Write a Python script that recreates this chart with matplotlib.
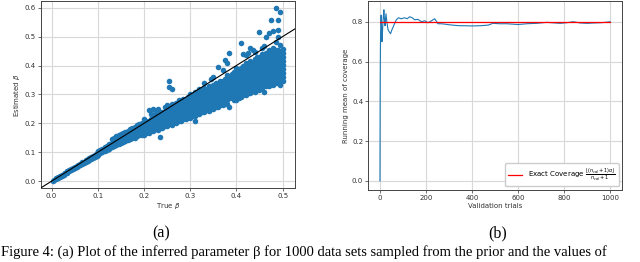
import matplotlib.pyplot as plt

# (a) true vs estimated beta, columns of points
col_x = [0.002, 0.006, 0.010, 0.014, 0.018, 0.022, 0.026, 0.030, 0.034, 0.038,
         0.042, 0.046, 0.050, 0.054, 0.058, 0.062, 0.066, 0.070, 0.074, 0.078,
         0.082, 0.086, 0.090, 0.094, 0.098,
         0.100, 0.105, 0.110, 0.115, 0.120, 0.125, 0.130, 0.135, 0.140, 0.145,
         0.150, 0.155, 0.160, 0.165, 0.170, 0.175, 0.180, 0.185, 0.190, 0.195,
         0.200, 0.205, 0.210, 0.215, 0.220, 0.225, 0.230, 0.235, 0.240, 0.245,
         0.250, 0.255, 0.260, 0.265, 0.270, 0.275, 0.280, 0.285, 0.290, 0.295,
         0.300, 0.305, 0.310, 0.315, 0.320, 0.325, 0.330, 0.335, 0.340, 0.345,
         0.350, 0.355, 0.360, 0.365, 0.370, 0.375, 0.380, 0.385, 0.390, 0.395,
         0.400, 0.405, 0.410, 0.415, 0.420, 0.425, 0.430, 0.435, 0.440, 0.445,
         0.450, 0.455, 0.460, 0.465, 0.470, 0.475, 0.480, 0.485, 0.490, 0.495,
         0.500]
col_y = [
    [0.002], [0.005], [0.009, 0.011], [0.012, 0.014], [0.016, 0.018],
    [0.019, 0.022], [0.023, 0.026], [0.027, 0.030], [0.030, 0.034], [0.034, 0.038],
    [0.038, 0.041], [0.041, 0.045], [0.045, 0.049], [0.048, 0.053], [0.052, 0.057],
    [0.056, 0.061], [0.060, 0.065], [0.063, 0.068], [0.067, 0.072], [0.070, 0.076],
    [0.074, 0.080], [0.077, 0.084], [0.081, 0.088], [0.084, 0.092], [0.088, 0.097],
    [0.092, 0.098, 0.104], [0.096, 0.102, 0.108], [0.101, 0.107, 0.113],
    [0.105, 0.111, 0.118], [0.109, 0.116, 0.122], [0.113, 0.120, 0.127],
    [0.117, 0.125, 0.132, 0.146], [0.121, 0.129, 0.137, 0.150],
    [0.125, 0.133, 0.141, 0.155], [0.128, 0.137, 0.146, 0.158],
    [0.132, 0.141, 0.150, 0.162], [0.135, 0.145, 0.155, 0.166],
    [0.139, 0.149, 0.159, 0.170], [0.142, 0.153, 0.163, 0.174],
    [0.145, 0.156, 0.167, 0.180], [0.149, 0.160, 0.171, 0.184],
    [0.150, 0.163, 0.175, 0.188], [0.155, 0.167, 0.179, 0.193],
    [0.158, 0.170, 0.183, 0.197], [0.160, 0.174, 0.187, 0.201],
    [0.160, 0.174, 0.188, 0.202, 0.216],
    [0.167, 0.181, 0.195, 0.209],
    [0.166, 0.180, 0.194, 0.208, 0.245],
    [0.173, 0.187, 0.201, 0.215, 0.232],
    [0.172, 0.186, 0.200, 0.214, 0.228, 0.250],
    [0.179, 0.193, 0.207, 0.221, 0.240],
    [0.178, 0.192, 0.206, 0.220, 0.234, 0.248],
    [0.153, 0.185, 0.199, 0.213, 0.227],
    [0.184, 0.198, 0.212, 0.226, 0.240],
    [0.191, 0.205, 0.219, 0.233, 0.256],
    [0.190, 0.204, 0.218, 0.232, 0.246, 0.265],
    [0.197, 0.211, 0.225, 0.239, 0.253, 0.345, 0.325],
    [0.196, 0.210, 0.224, 0.238, 0.252, 0.266, 0.320],
    [0.203, 0.217, 0.231, 0.245, 0.259],
    [0.202, 0.216, 0.230, 0.244, 0.258, 0.272],
    [0.209, 0.223, 0.237, 0.251, 0.265, 0.282],
    [0.208, 0.222, 0.236, 0.250, 0.264, 0.278],
    [0.215, 0.229, 0.243, 0.257, 0.271, 0.285],
    [0.214, 0.228, 0.242, 0.256, 0.270, 0.284],
    [0.221, 0.235, 0.249, 0.263, 0.277, 0.291],
    [0.220, 0.234, 0.248, 0.262, 0.276, 0.290, 0.302],
    [0.227, 0.241, 0.255, 0.269, 0.283, 0.297],
    [0.207, 0.226, 0.240, 0.254, 0.268, 0.282, 0.296, 0.310],
    [0.233, 0.247, 0.261, 0.275, 0.289, 0.303],
    [0.232, 0.246, 0.260, 0.274, 0.288, 0.302, 0.318],
    [0.239, 0.253, 0.267, 0.281, 0.295, 0.309],
    [0.238, 0.252, 0.266, 0.280, 0.294, 0.308, 0.322, 0.340],
    [0.245, 0.259, 0.273, 0.287, 0.301, 0.315],
    [0.244, 0.258, 0.272, 0.286, 0.300, 0.314, 0.328],
    [0.251, 0.265, 0.279, 0.293, 0.307, 0.321, 0.352],
    [0.250, 0.264, 0.278, 0.292, 0.306, 0.320, 0.334, 0.360],
    [0.257, 0.271, 0.285, 0.299, 0.313, 0.327, 0.341],
    [0.256, 0.270, 0.284, 0.298, 0.312, 0.326, 0.340, 0.395],
    [0.263, 0.277, 0.291, 0.305, 0.319, 0.333, 0.347],
    [0.262, 0.276, 0.290, 0.304, 0.318, 0.332, 0.346, 0.385],
    [0.269, 0.283, 0.297, 0.311, 0.325, 0.339, 0.353, 0.420],
    [0.268, 0.282, 0.296, 0.310, 0.324, 0.338, 0.352, 0.366, 0.410],
    [0.256, 0.289, 0.303, 0.317, 0.331, 0.345, 0.359, 0.443],
    [0.290, 0.288, 0.302, 0.316, 0.330, 0.344, 0.358, 0.372],
    [0.281, 0.295, 0.309, 0.323, 0.337, 0.351, 0.365, 0.379],
    [0.280, 0.294, 0.308, 0.322, 0.336, 0.350, 0.364, 0.378, 0.392],
    [0.287, 0.301, 0.315, 0.329, 0.343, 0.357, 0.371, 0.385],
    [0.292, 0.306, 0.320, 0.334, 0.348, 0.362, 0.376, 0.390, 0.477],
    [0.299, 0.313, 0.327, 0.341, 0.355, 0.369, 0.383, 0.397, 0.440],
    [0.298, 0.312, 0.326, 0.340, 0.354, 0.368, 0.382, 0.396, 0.410, 0.435],
    [0.305, 0.319, 0.333, 0.347, 0.361, 0.375, 0.389, 0.403, 0.445],
    [0.304, 0.318, 0.332, 0.346, 0.360, 0.374, 0.388, 0.402, 0.416, 0.460],
    [0.311, 0.325, 0.339, 0.353, 0.367, 0.381, 0.395, 0.409, 0.452],
    [0.310, 0.324, 0.338, 0.352, 0.366, 0.380, 0.394, 0.408, 0.422, 0.448],
    [0.317, 0.331, 0.345, 0.359, 0.373, 0.387, 0.401, 0.415, 0.430],
    [0.316, 0.330, 0.344, 0.358, 0.372, 0.386, 0.400, 0.414, 0.428, 0.517],
    [0.323, 0.337, 0.351, 0.365, 0.379, 0.393, 0.407, 0.421, 0.440, 0.462],
    [0.310, 0.336, 0.350, 0.364, 0.378, 0.392, 0.406, 0.420, 0.434, 0.466],
    [0.329, 0.343, 0.357, 0.371, 0.385, 0.399, 0.413, 0.427, 0.445, 0.499],
    [0.328, 0.342, 0.356, 0.370, 0.384, 0.398, 0.412, 0.426, 0.440, 0.454, 0.512],
    [0.335, 0.349, 0.363, 0.377, 0.391, 0.405, 0.419, 0.433, 0.447, 0.557],
    [0.334, 0.348, 0.362, 0.376, 0.390, 0.404, 0.418, 0.432, 0.446, 0.460, 0.520],
    [0.341, 0.355, 0.369, 0.383, 0.397, 0.411, 0.425, 0.439, 0.453, 0.480, 0.598],
    [0.340, 0.354, 0.368, 0.382, 0.396, 0.410, 0.424, 0.438, 0.452, 0.499, 0.557, 0.522],
    [0.333, 0.347, 0.361, 0.375, 0.389, 0.403, 0.417, 0.431, 0.445, 0.470, 0.586],
    [0.346, 0.360, 0.374, 0.388, 0.402, 0.416, 0.430, 0.444, 0.458],
]
true_beta = [x for x, ys in zip(col_x, col_y) for _ in ys]
est_beta = [y for ys in col_y for y in ys]

# (b) running mean of coverage over validation trials
trials = [0, 1, 2, 3, 4, 5, 6, 8, 9, 11, 13, 15, 17, 19, 22, 24, 26, 30, 35, 40,
          46, 52, 56, 63, 71, 81, 92, 107, 118, 129, 140, 151, 165, 180, 195,
          209, 224, 238, 252, 266, 281, 300, 325, 348, 368, 400, 435, 470,
          491, 520, 551, 600, 638, 680, 725, 760, 783, 810, 840, 870, 899,
          930, 957, 980, 1000]
running_mean = [0.0, 0.5, 0.667, 0.75, 0.8, 0.833, 0.80, 0.75, 0.70, 0.75,
                0.80, 0.83, 0.86, 0.82, 0.78, 0.81, 0.84, 0.80, 0.76, 0.75,
                0.74, 0.76, 0.77, 0.79, 0.81, 0.82, 0.815, 0.82, 0.815, 0.825,
                0.82, 0.81, 0.812, 0.80, 0.805, 0.795, 0.805, 0.815, 0.79,
                0.79, 0.788, 0.785, 0.782, 0.78, 0.78, 0.779, 0.78, 0.783,
                0.792, 0.79, 0.79, 0.786, 0.79, 0.792, 0.797, 0.794, 0.792,
                0.795, 0.80, 0.794, 0.792, 0.794, 0.795, 0.797, 0.80]
exact_trials = [0, 1000]
exact_coverage = [0.8, 0.8]

blue = '#1f77b4'
fs = 5

fig = plt.figure(figsize=(6.4, 2.62), dpi=100)
ax1 = fig.add_axes([0.064, 0.282, 0.397, 0.714])
ax2 = fig.add_axes([0.575, 0.275, 0.397, 0.721])

for ax in (ax1, ax2):
    ax.grid(True, color='#d8d8d8', lw=0.8)
    ax.set_axisbelow(True)
    ax.tick_params(labelsize=fs, length=2, width=0.5, pad=1.5, colors='#333333')
    for s in ax.spines.values():
        s.set_color('#444444')
        s.set_linewidth(0.7)

ax1.scatter(true_beta, est_beta, s=16, color=blue, linewidths=0, zorder=2)
ax1.set_xlim(-0.023, 0.527)
ax1.set_ylim(-0.024, 0.623)
ax1.axline((0, 0), slope=1, color='black', lw=0.8, zorder=3)
ax1.set_xticks([0.0, 0.1, 0.2, 0.3, 0.4, 0.5])
ax1.set_yticks([0.0, 0.1, 0.2, 0.3, 0.4, 0.5, 0.6])
ax1.set_xlabel(r'True $\beta$', fontsize=fs, labelpad=1.5, color='#333333')
ax1.set_ylabel(r'Estimated $\beta$', fontsize=fs, labelpad=2, color='#333333')

ax2.plot(trials, running_mean, color=blue, lw=0.8)
ax2.plot(exact_trials, exact_coverage, color='red', lw=0.9,
         label=r'Exact Coverage $\frac{\lfloor(n_{cal}+1)\alpha\rfloor}{n_{cal}+1}$')
ax2.set_xlim(-52, 1052)
ax2.set_ylim(-0.045, 0.904)
ax2.set_xticks([0, 200, 400, 600, 800, 1000])
ax2.set_yticks([0.0, 0.2, 0.4, 0.6, 0.8])
ax2.set_xlabel('Validation trials', fontsize=fs, labelpad=1.5, color='#333333')
ax2.set_ylabel('Running mean of coverage', fontsize=fs, labelpad=2, color='#333333')
ax2.legend(loc='lower right', fontsize=fs, handlelength=2.0, borderpad=0.5,
           framealpha=1, edgecolor='#cccccc', fancybox=True)

fig.text(0.2515, 0.111, '(a)', fontsize=11.5, family='Liberation Serif', ha='center', va='center')
fig.text(0.778, 0.111, '(b)', fontsize=11.5, family='Liberation Serif', ha='center', va='center')
fig.text(0.002, 0.022,
         'Figure 4: (a) Plot of the inferred parameter β for 1000 data sets sampled from the prior and the values of',
         fontsize=10.5, family='Liberation Serif', ha='left', va='baseline')

fig.savefig('out.png', dpi=100)
